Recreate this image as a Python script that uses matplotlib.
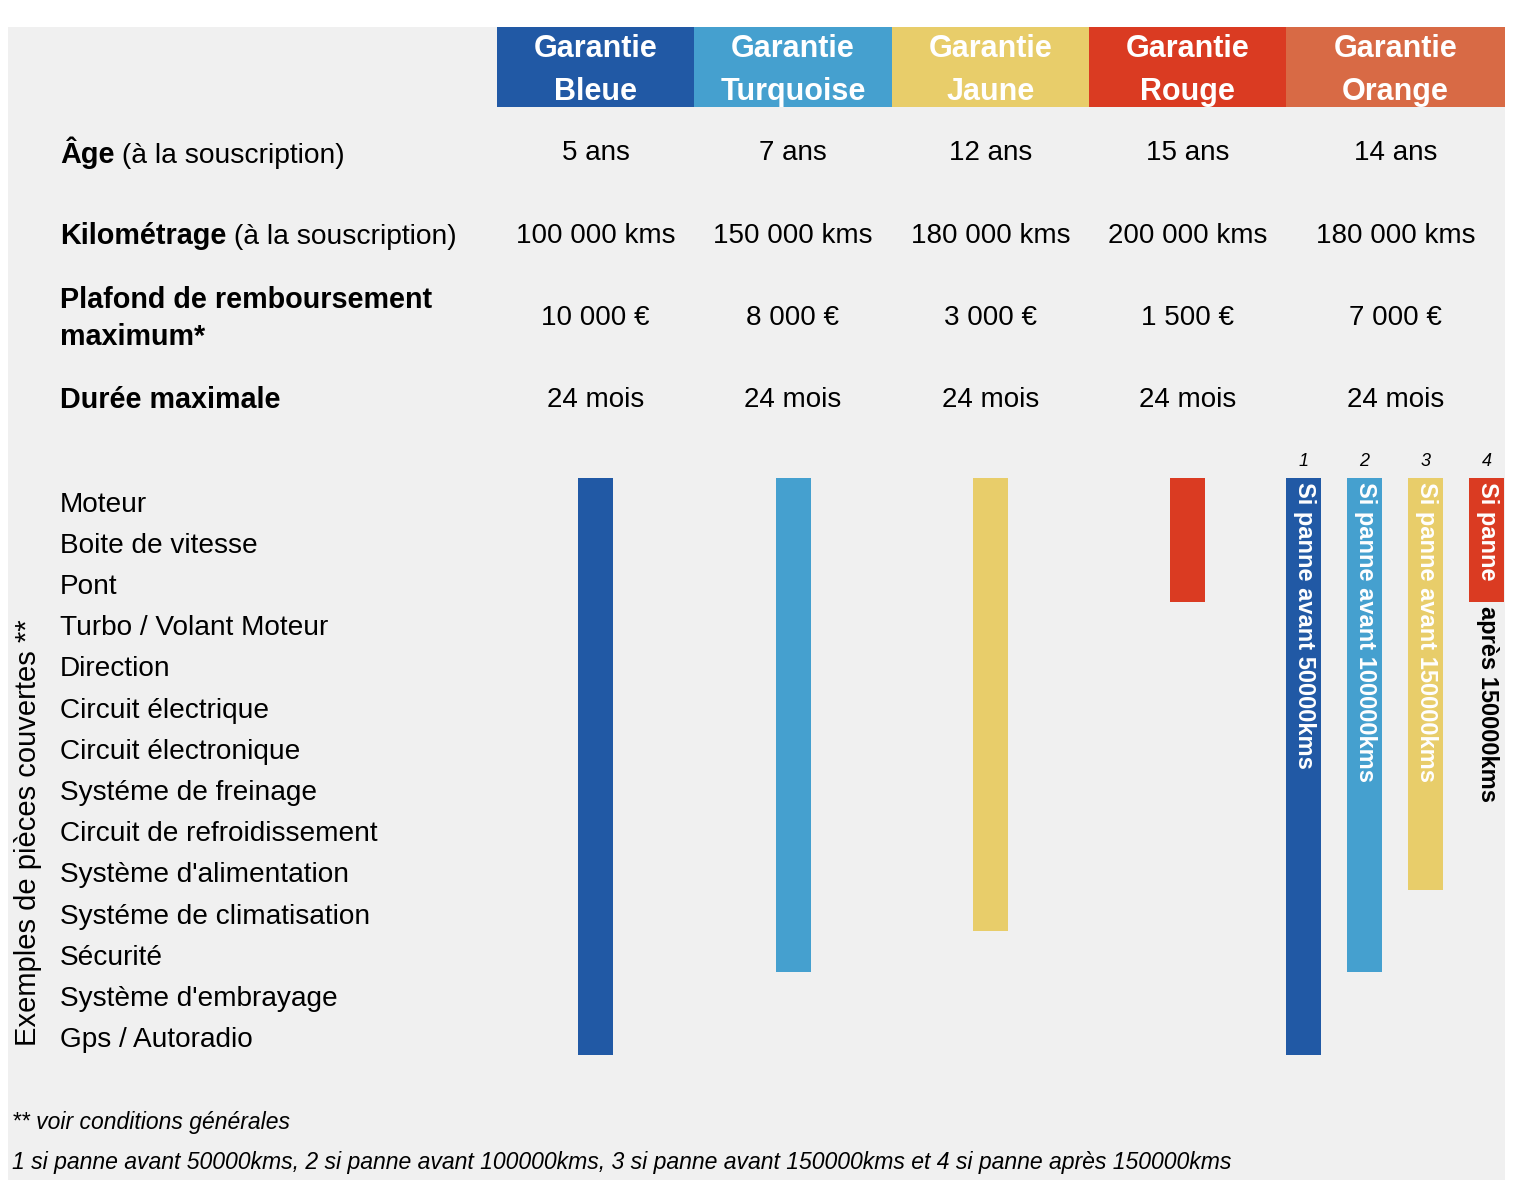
import matplotlib
matplotlib.use("Agg")
import matplotlib.pyplot as plt

plt.rcParams['font.family'] = ['Liberation Sans', 'DejaVu Sans']

# ---------------- data ----------------
warranties = ["Bleue", "Turquoise", "Jaune", "Rouge", "Orange"]
ages = ["5 ans", "7 ans", "12 ans", "15 ans", "14 ans"]
kms = ["100 000 kms", "150 000 kms", "180 000 kms", "200 000 kms", "180 000 kms"]
plafonds = ["10 000 €", "8 000 €", "3 000 €", "1 500 €", "7 000 €"]
durees = ["24 mois", "24 mois", "24 mois", "24 mois", "24 mois"]
parts = ["Moteur", "Boite de vitesse", "Pont", "Turbo / Volant Moteur", "Direction",
         "Circuit électrique", "Circuit électronique", "Systéme de freinage",
         "Circuit de refroidissement", "Système d'alimentation",
         "Systéme de climatisation", "Sécurité", "Système d'embrayage", "Gps / Autoradio"]
coverage = [14, 12, 11, 3]            # parts covered (rows) for Bleue..Rouge
orange_coverage = [14, 12, 10, 3]     # Orange sub-cases 1..4
orange_numbers = ["1", "2", "3", "4"]
orange_texts = ["Si panne avant 50000kms", "Si panne avant 100000kms",
                "Si panne avant 150000kms", "Si panne"]

# ---------------- styles / layout ----------------
colors = ["#2159a5", "#45a0cf", "#e8cd6a", "#da3b22", "#d86a45"]
bg = "#f0f0f0"
col_edges = [497, 694, 892, 1089, 1286, 1505]
col_centers = [(a + b) / 2 for a, b in zip(col_edges[:-1], col_edges[1:])]
col_widths = [b - a for a, b in zip(col_edges[:-1], col_edges[1:])]
ROW_TOP = 478
ROW_H = 41.2
BAR_W = 35
orange_x0 = 1303.5
orange_dx = 61
DY = 3  # small baseline shift

fig = plt.figure(figsize=(15.36, 11.97), dpi=100)
fig.patch.set_facecolor("white")
ax = fig.add_axes([0, 0, 1, 1])
ax.set_xlim(0, 1536)
ax.set_ylim(1197, 0)
ax.axis("off")

# gray panel
ax.add_patch(plt.Rectangle((8, 27), 1497, 1153, color=bg, zorder=0, lw=0))

# header cells
ax.bar(col_centers, [80] * 5, bottom=27, width=col_widths, color=colors, zorder=1, lw=0)
for cx, name in zip(col_centers, warranties):
    ax.text(cx, 46 + DY, "Garantie", ha="center", va="center", color="white",
            fontsize=22, fontweight="bold", zorder=3)
    ax.text(cx, 89 + DY, name, ha="center", va="center", color="white",
            fontsize=22, fontweight="bold", zorder=3)

FS = 20
FSB = 20.7
FSR = 20.3
# row labels (mixed weights)
def mixed(y, bold, regular):
    t = ax.text(60, y + DY, bold, ha="left", va="center", fontsize=FSB, fontweight="bold")
    if regular:
        ax.annotate(regular, xy=(1, 0), xycoords=t, ha="left", va="bottom",
                    fontsize=FSR)

mixed(150, "Âge", " (à la souscription)")
mixed(233, "Kilométrage", " (à la souscription)")
ax.text(60, 297 + DY, "Plafond de remboursement", ha="left", va="center", fontsize=FSB, fontweight="bold")
ax.text(60, 334 + DY, "maximum*", ha="left", va="center", fontsize=FSB, fontweight="bold")
mixed(397, "Durée maximale", None)

for cx, a, k, p, d in zip(col_centers, ages, kms, plafonds, durees):
    ax.text(cx, 150 + DY, a, ha="center", va="center", fontsize=FS)
    ax.text(cx, 233 + DY, k, ha="center", va="center", fontsize=FS)
    ax.text(cx, 315 + DY, p, ha="center", va="center", fontsize=FS)
    ax.text(cx, 397 + DY, d, ha="center", va="center", fontsize=FS)

# parts list
for i, p in enumerate(parts):
    ax.text(60, ROW_TOP + ROW_H * (i + 0.5) + 6, p, ha="left", va="center", fontsize=20.2)

ax.text(28, 833, "Exemples de pièces couvertes **", rotation=90,
        ha="center", va="center", fontsize=21)

# coverage bars for first four warranties
ax.bar(col_centers[:4], [c * ROW_H for c in coverage], bottom=ROW_TOP, width=BAR_W,
       color=colors[:4], lw=0, zorder=2)

# orange sub-cases
ox = [orange_x0 + orange_dx * i for i in range(4)]
ax.bar(ox, [c * ROW_H for c in orange_coverage], bottom=ROW_TOP, width=BAR_W,
       color=colors[:4], lw=0, zorder=2)
for x, n, txt in zip(ox, orange_numbers, orange_texts):
    ax.text(x, 458 + DY, n, ha="center", va="center", fontsize=13, style="italic")
    ax.text(x + 1, 482, txt, rotation=270, ha="center", va="top", color="white",
            fontsize=17, fontweight="bold", zorder=3)
ax.text(ox[3] + 1, 606, "après 150000kms", rotation=270, ha="center", va="top",
        color="black", fontsize=17, fontweight="bold", zorder=3)

# footnotes
ax.text(12, 1120 + DY, "** voir conditions générales", ha="left", va="center",
        fontsize=16.5, style="italic")
ax.text(12, 1160 + DY, "1 si panne avant 50000kms, 2 si panne avant 100000kms, 3 si panne avant "
        "150000kms et 4 si panne après 150000kms", ha="left", va="center",
        fontsize=16.6, style="italic")

fig.savefig("out.png", dpi=100, facecolor="white")
